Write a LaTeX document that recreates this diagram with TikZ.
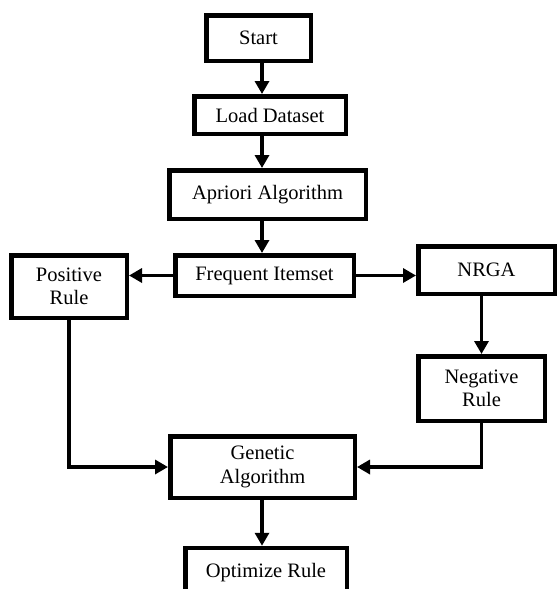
\documentclass[tikz,border=0pt]{standalone}
\usepackage{fontspec}
\setmainfont{Liberation Serif}
\usetikzlibrary{arrows.meta}
\begin{document}
\begin{tikzpicture}[x=1pt, y=-1pt, >={Triangle[length=13pt,width=14pt]},
    box/.style={draw, line width=4.5pt, inner sep=0pt, align=center,
      font=\fontsize{20.5}{23.5}\selectfont},
    arr/.style={->, line width=3.5pt}]
    \useasboundingbox (0,0) rectangle (558,589);

    \node[box, minimum width=104.5pt, minimum height=45.5pt] (start) at (258.5,38) {Start};
    \node[box, minimum width=151.5pt, minimum height=37.5pt] (load) at (270,115) {Load Dataset};
    \node[box, minimum width=196.5pt, minimum height=48.5pt] (apriori) at (267.5,194.5) {Apriori Algorithm};
    \node[box, minimum width=178.5pt, minimum height=40.5pt] (freq) at (264.5,275.5) {Frequent Itemset};
    \node[box, minimum width=115.5pt, minimum height=62.5pt] (pos) at (69,286.5) {Positive\\Rule};
    \node[box, minimum width=136.5pt, minimum height=47.5pt] (nrga) at (486.5,270) {NRGA};
    \node[box, minimum width=126.5pt, minimum height=64.5pt] (neg) at (481.5,388.5) {Negative\\Rule};
    \node[box, minimum width=184.5pt, minimum height=61.5pt] (gen) at (262.5,467) {Genetic\\Algorithm};
    \node[box, minimum width=161.5pt, minimum height=50pt] (opt) at (266,573) {Optimize Rule};

    % vertical trunk
    \coordinate (spine) at (262,0);
    \draw[arr] (start.south -| spine) -- (load.north -| spine);
    \draw[arr] (load.south -| spine) -- (apriori.north -| spine);
    \draw[arr] (apriori.south -| spine) -- (freq.north -| spine);
    \draw[arr] (gen.south -| spine) -- (opt.north -| spine);

    \draw[arr] (freq.west) -- (pos.east |- freq.west);
    \draw[arr] (freq.east) -- (nrga.west |- freq.east);
    \draw[arr] (neg.north |- nrga.south) -- (neg.north);

    \draw[arr] (pos.south) |- (gen.west);
    \draw[arr] (neg.south) |- (gen.east);
  \end{tikzpicture}
\end{document}
